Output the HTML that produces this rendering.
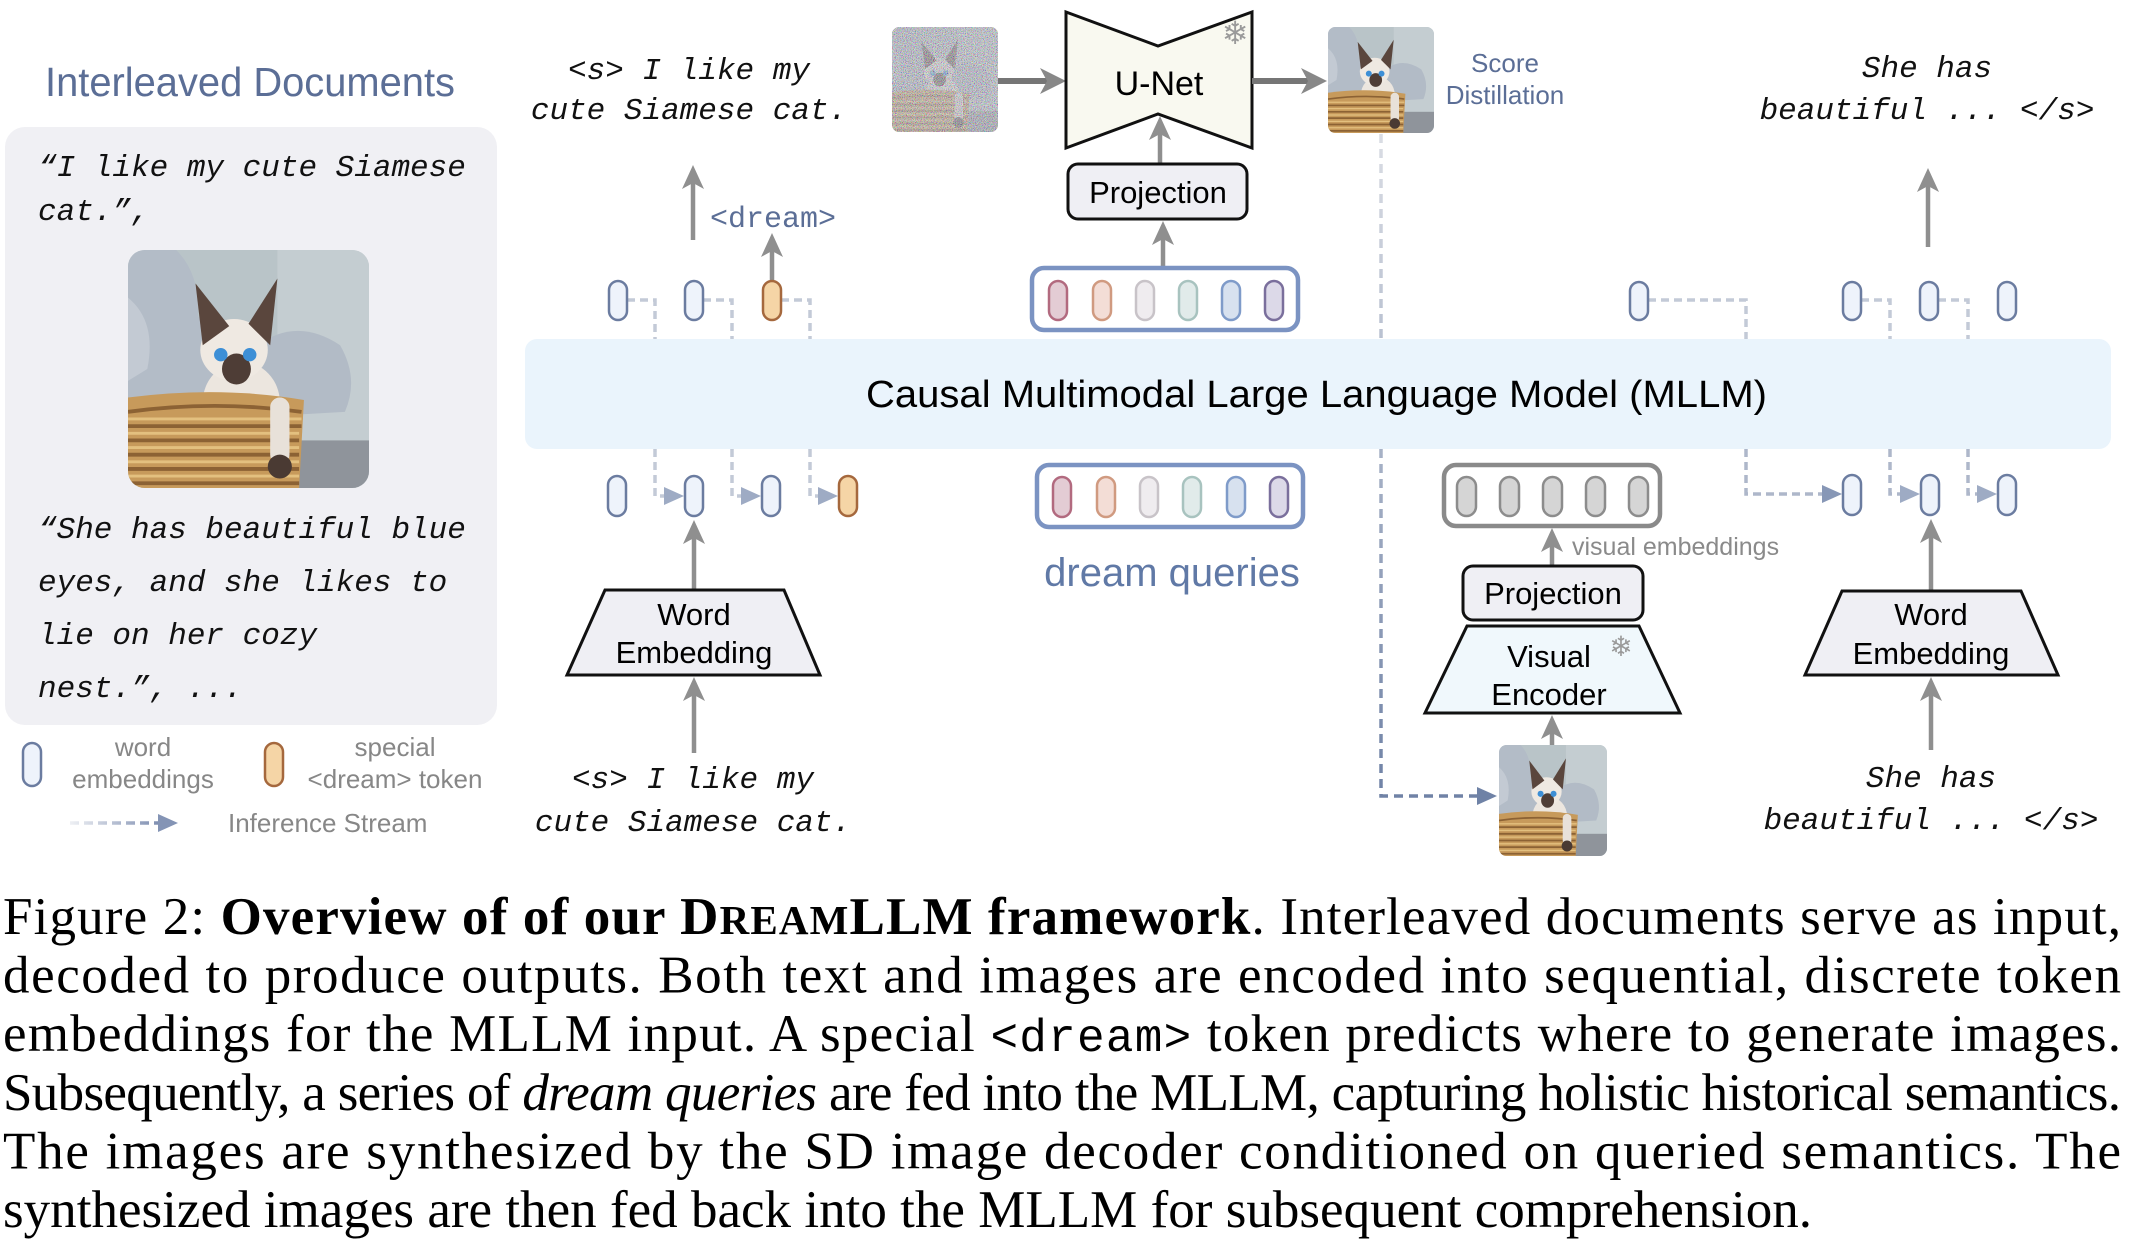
<!DOCTYPE html>
<html><head><meta charset="utf-8">
<style>html,body{margin:0;padding:0;background:#fff}svg{display:block}</style>
</head><body>
<svg width="2136" height="1242" viewBox="0 0 2136 1242" xmlns="http://www.w3.org/2000/svg">
<defs>
  <symbol id="cat" viewBox="0 0 100 100" preserveAspectRatio="none">
    <rect width="100" height="100" fill="#b9c4c8"/>
    <rect x="62" width="38" height="100" fill="#c4cdd1"/>
    <path d="M0,0 L20,0 Q30,10 29,28 Q40,32 46,44 L42,72 L0,76 Z" fill="#b3bcc7"/>
    <path d="M0,20 Q12,30 8,50 L0,55 Z" fill="#c3cad3"/>
    <path d="M54,40 Q70,28 88,40 Q96,54 90,68 L55,70 Z" fill="#b2bbc6"/>
    <rect x="70" y="80" width="30" height="20" fill="#8f949b"/>
    <ellipse cx="47" cy="64" rx="16" ry="17" fill="#ece6df"/>
    <ellipse cx="44" cy="42" rx="14" ry="13" fill="#efe9e2"/>
    <polygon points="31,40 28,14 42,32" fill="#5a463d"/>
    <polygon points="50,31 62,12 59,40" fill="#5a463d"/>
    <ellipse cx="45" cy="50" rx="6" ry="6.5" fill="#4e3d36"/>
    <circle cx="38.5" cy="44" r="2.8" fill="#3d8fd6"/>
    <circle cx="50.5" cy="44" r="2.8" fill="#3d8fd6"/>
    <path d="M0,62 Q38,57 73,63 L71,100 L0,100 Z" fill="#c79a5b"/>
    <g stroke="#8c6234" stroke-width="1.6" fill="none">
      <path d="M0,68 Q36,63 72,68 M0,74 H72 M0,80 H71 M0,86 H71 M0,92 H71 M0,98 H71"/>
    </g>
    <g stroke="#e3c07f" stroke-width="1.2" fill="none">
      <path d="M0,71 H72 M0,77 H71 M0,83 H71 M0,89 H71 M0,95 H71"/>
    </g>
    <rect x="59" y="62" width="8" height="28" rx="4" fill="#e8e1d9"/>
    <ellipse cx="63" cy="91" rx="5" ry="5" fill="#4a3a33"/>
  </symbol>
  <clipPath id="rc" clipPathUnits="objectBoundingBox"><rect width="1" height="1" rx="0.07" ry="0.07"/></clipPath>
  <filter id="nz" x="0" y="0" width="1" height="1" filterUnits="objectBoundingBox">
    <feTurbulence type="fractalNoise" baseFrequency="1.1" numOctaves="1" seed="7"/>
    <feColorMatrix type="matrix" values="2.4 0 0 0 -0.65  0 2.4 0 0 -0.65  0 0 2.4 0 -0.6  0 0 0 0 0.62"/>
  </filter>
  <linearGradient id="gv" gradientUnits="userSpaceOnUse" x1="0" y1="134" x2="0" y2="800">
    <stop offset="0" stop-color="#dadde4"/><stop offset="1" stop-color="#6f82a6"/>
  </linearGradient>
  <linearGradient id="gl" gradientUnits="userSpaceOnUse" x1="70" y1="0" x2="160" y2="0">
    <stop offset="0" stop-color="#eef0f4"/><stop offset="1" stop-color="#7d8db0"/>
  </linearGradient>
  <style>
    .w{fill:#eef3fb;stroke:#6b7ca0;stroke-width:2.5}
    .o{fill:#f5d5a6;stroke:#a5683d;stroke-width:2.5}
    .g{fill:#d5d5d5;stroke:#8c8c8c;stroke-width:2.5}
    .d{fill:none;stroke:#c3cad7;stroke-width:3.5;stroke-dasharray:8 5}
    .ah{fill:#9eabc4}
    .ar{stroke:#8f8f8f;stroke-width:4.5}
    .af{fill:#8f8f8f}
    .sans{font-family:"Liberation Sans",Arial,sans-serif}
    .mi{font-family:"Liberation Mono",monospace;font-style:italic}
    .serif{font-family:"Liberation Serif","Times New Roman",serif}
  </style>
</defs>

<!-- Left panel -->
<text class="sans" x="45" y="96" font-size="41" fill="#5b6e96" textLength="410" lengthAdjust="spacingAndGlyphs">Interleaved Documents</text>
<rect x="5" y="127" width="492" height="598" rx="20" fill="#f0f0f4"/>
<g class="mi" font-size="31" fill="#111">
  <text x="38" y="176">“I like my cute Siamese</text>
  <text x="38" y="220">cat.”,</text>
  <text x="38" y="538">“She has beautiful blue</text>
  <text x="38" y="591">eyes, and she likes to</text>
  <text x="38" y="644">lie on her cozy</text>
  <text x="38" y="697">nest.”, ...</text>
</g>
<use href="#cat" x="128" y="250" width="241" height="238" clip-path="url(#rc)"/>

<!-- Legend -->
<rect class="w" x="23" y="743" width="18" height="43" rx="9"/>
<rect class="o" x="265" y="743" width="18" height="43" rx="9"/>
<g class="sans" font-size="26" fill="#878787" text-anchor="middle">
  <text x="143" y="756">word</text>
  <text x="143" y="788">embeddings</text>
  <text x="395" y="756">special</text>
  <text x="395" y="788">&lt;dream&gt; token</text>
</g>
<path d="M70,823 H160" stroke="url(#gl)" stroke-width="3.5" stroke-dasharray="9 5" fill="none"/>
<polygon points="178,823 158,814 158,832" fill="#8494b5"/>
<text class="sans" x="228" y="832" font-size="26" fill="#878787">Inference Stream</text>

<!-- long dashed feedback line -->
<path d="M1381,134 V796 H1480" fill="none" stroke="url(#gv)" stroke-width="3.5" stroke-dasharray="9 6"/>
<polygon points="1497,796 1477,787 1477,805" fill="#6f82a6"/>

<!-- connectors top -->
<path class="d" d="M627,300 H655 V339 M703,300 H732 V339 M781,300 H810 V339"/>
<path class="d" d="M1648,300 H1746 V339 M1861,300 H1890 V339 M1938,300 H1968 V339"/>
<!-- connectors bottom -->
<path class="d" d="M655,449 V496 H664 M732,449 V496 H741 M810,449 V496 H818"/>
<polygon class="ah" points="684,496 664,487 664,505"/>
<polygon class="ah" points="761,496 741,487 741,505"/>
<polygon class="ah" points="838,496 818,487 818,505"/>
<path class="d" d="M1746,449 V494 H1822 M1890,449 V494 H1900 M1968,449 V494 H1977" style="stroke:#aeb7ca"/>
<polygon class="ah" points="1842,494 1822,485 1822,503" style="fill:#8797b6"/>
<polygon class="ah" points="1920,494 1900,485 1900,503"/>
<polygon class="ah" points="1997,494 1977,485 1977,503"/>

<!-- MLLM bar -->
<rect x="525" y="339" width="1586" height="110" rx="12" fill="#eaf4fc"/>
<text class="sans" x="866" y="407" font-size="38" fill="#000" textLength="901" lengthAdjust="spacingAndGlyphs">Causal Multimodal Large Language Model (MLLM)</text>

<!-- top-left output -->
<g class="mi" font-size="31" fill="#111" text-anchor="middle">
  <text x="689" y="79">&lt;s&gt; I like my</text>
  <text x="689" y="119">cute Siamese cat.</text>
</g>
<line class="ar" x1="693" y1="240" x2="693" y2="182"/><polygon class="af" points="693,165 704,189 693,183 682,189"/>
<text x="710" y="227" font-family="Liberation Mono,monospace" font-size="30" fill="#5b6e96">&lt;dream&gt;</text>
<line class="ar" x1="772" y1="281" x2="772" y2="250"/><polygon class="af" points="772,233 783,257 772,251 761,257"/>
<rect class="w" x="609" y="281" width="18" height="39" rx="9"/>
<rect class="w" x="685" y="281" width="18" height="39" rx="9"/>
<rect class="o" x="763" y="281" width="18" height="39" rx="9"/>

<!-- bottom-left input -->
<rect class="w" x="608" y="476" width="18" height="40" rx="9"/>
<rect class="w" x="685" y="476" width="18" height="40" rx="9"/>
<rect class="w" x="762" y="476" width="18" height="40" rx="9"/>
<rect class="o" x="839" y="476" width="18" height="40" rx="9"/>
<line class="ar" x1="694" y1="590" x2="694" y2="537"/><polygon class="af" points="694,520 705,544 694,538 683,544"/>
<polygon points="605,590 784,590 820,675 567,675" fill="#efeff4" stroke="#111" stroke-width="3"/>
<g class="sans" font-size="31" fill="#000" text-anchor="middle">
  <text x="694" y="625">Word</text>
  <text x="694" y="663">Embedding</text>
</g>
<line class="ar" x1="694" y1="753" x2="694" y2="694"/><polygon class="af" points="694,677 705,701 694,695 683,701"/>
<g class="mi" font-size="31" fill="#111" text-anchor="middle">
  <text x="693" y="788">&lt;s&gt; I like my</text>
  <text x="693" y="831">cute Siamese cat.</text>
</g>

<!-- U-Net section -->
<g clip-path="url(#rc)">
  <use href="#cat" x="892" y="27" width="106" height="105"/>
  <rect x="892" y="27" width="106" height="105" fill="#9a9a9a" opacity="0.35"/>
  <rect x="892" y="27" width="106" height="105" filter="url(#nz)"/>
</g>
<line x1="998" y1="81" x2="1050" y2="81" stroke="#767676" stroke-width="6"/>
<polygon points="1066,81 1040,68 1047,81 1040,94" fill="#888"/>
<polygon points="1066,12 1158,46 1252,12 1252,148 1158,114 1066,148" fill="#f9f9f0" stroke="#111" stroke-width="3" stroke-linejoin="miter"/>
<text class="sans" x="1159" y="95" font-size="34" text-anchor="middle" fill="#000">U-Net</text>
<text x="1235" y="44" font-family="DejaVu Sans,sans-serif" font-size="32" fill="#9a9a9a" text-anchor="middle">❄</text>
<line x1="1252" y1="81" x2="1311" y2="81" stroke="#767676" stroke-width="6"/>
<polygon points="1327,81 1301,68 1308,81 1301,94" fill="#888"/>
<use href="#cat" x="1328" y="27" width="106" height="106" clip-path="url(#rc)"/>
<g class="sans" font-size="26" fill="#5b6e96" text-anchor="middle">
  <text x="1505" y="72">Score</text>
  <text x="1505" y="104">Distillation</text>
</g>
<line class="ar" x1="1160" y1="164" x2="1160" y2="133"/><polygon class="af" points="1160,116 1171,140 1160,134 1149,140"/>
<rect x="1068" y="164" width="179" height="55" rx="10" fill="#efeff4" stroke="#111" stroke-width="3"/>
<text class="sans" x="1158" y="203" font-size="31" text-anchor="middle" fill="#000">Projection</text>
<line class="ar" x1="1163" y1="268" x2="1163" y2="238"/><polygon class="af" points="1163,221 1174,245 1163,239 1152,245"/>

<!-- dream queries boxes -->
<rect x="1032" y="268" width="266" height="62" rx="12" fill="#fff" stroke="#7b93c2" stroke-width="4.5"/>
<g stroke-width="2.5">
  <rect x="1049" y="281" width="18" height="39" rx="9" fill="#e3ccd4" stroke="#b26a7f"/>
  <rect x="1093" y="281" width="18" height="39" rx="9" fill="#f3ddd6" stroke="#d09a80"/>
  <rect x="1136" y="281" width="18" height="39" rx="9" fill="#efecef" stroke="#c8c3c8"/>
  <rect x="1179" y="281" width="18" height="39" rx="9" fill="#e1ebea" stroke="#a8c3bf"/>
  <rect x="1222" y="281" width="18" height="39" rx="9" fill="#d7e1ef" stroke="#7f9bc9"/>
  <rect x="1265" y="281" width="18" height="39" rx="9" fill="#dcd9e8" stroke="#7a6f9c"/>
</g>
<rect x="1037" y="465" width="266" height="62" rx="12" fill="#fff" stroke="#7b93c2" stroke-width="4.5"/>
<g stroke-width="2.5">
  <rect x="1053" y="477" width="18" height="40" rx="9" fill="#e3ccd4" stroke="#b26a7f"/>
  <rect x="1097" y="477" width="18" height="40" rx="9" fill="#f3ddd6" stroke="#d09a80"/>
  <rect x="1140" y="477" width="18" height="40" rx="9" fill="#efecef" stroke="#c8c3c8"/>
  <rect x="1183" y="477" width="18" height="40" rx="9" fill="#e1ebea" stroke="#a8c3bf"/>
  <rect x="1227" y="477" width="18" height="40" rx="9" fill="#d7e1ef" stroke="#7f9bc9"/>
  <rect x="1270" y="477" width="18" height="40" rx="9" fill="#dcd9e8" stroke="#7a6f9c"/>
</g>
<text class="sans" x="1172" y="586" font-size="40" fill="#6079a6" text-anchor="middle">dream queries</text>

<!-- right top -->
<g class="mi" font-size="31" fill="#111" text-anchor="middle">
  <text x="1927" y="77">She has</text>
  <text x="1927" y="119">beautiful ... &lt;/s&gt;</text>
</g>
<line class="ar" x1="1928" y1="247" x2="1928" y2="185"/><polygon class="af" points="1928,168 1939,192 1928,186 1917,192"/>
<rect class="w" x="1630" y="282" width="18" height="38" rx="9"/>
<rect class="w" x="1843" y="282" width="18" height="38" rx="9"/>
<rect class="w" x="1920" y="282" width="18" height="38" rx="9"/>
<rect class="w" x="1998" y="282" width="18" height="38" rx="9"/>

<!-- visual branch -->
<rect x="1444" y="465" width="216" height="61" rx="12" fill="#fff" stroke="#8a8a8a" stroke-width="4.5"/>
<rect class="g" x="1457" y="477" width="19" height="39" rx="9.5"/>
<rect class="g" x="1500" y="477" width="19" height="39" rx="9.5"/>
<rect class="g" x="1543" y="477" width="19" height="39" rx="9.5"/>
<rect class="g" x="1586" y="477" width="19" height="39" rx="9.5"/>
<rect class="g" x="1629" y="477" width="19" height="39" rx="9.5"/>
<line class="ar" x1="1552" y1="566" x2="1552" y2="545"/><polygon class="af" points="1552,528 1563,552 1552,546 1541,552"/>
<text class="sans" x="1572" y="555" font-size="25" fill="#8a8a8a">visual embeddings</text>
<rect x="1463" y="566" width="180" height="54" rx="10" fill="#efeff4" stroke="#111" stroke-width="3"/>
<text class="sans" x="1553" y="604" font-size="31" text-anchor="middle" fill="#000">Projection</text>
<polygon points="1467,626 1639,626 1680,713 1425,713" fill="#f0f8fc" stroke="#111" stroke-width="3"/>
<g class="sans" font-size="31" fill="#000" text-anchor="middle">
  <text x="1549" y="667">Visual</text>
  <text x="1549" y="705">Encoder</text>
</g>
<text x="1621" y="656" font-family="DejaVu Sans,sans-serif" font-size="28" fill="#9a9a9a" text-anchor="middle">❄</text>
<line class="ar" x1="1552" y1="746" x2="1552" y2="732"/><polygon class="af" points="1552,715 1563,739 1552,733 1541,739"/>
<use href="#cat" x="1499" y="745" width="108" height="111" clip-path="url(#rc)"/>

<!-- right bottom -->
<rect class="w" x="1843" y="475" width="18" height="40" rx="9"/>
<rect class="w" x="1921" y="475" width="18" height="40" rx="9"/>
<rect class="w" x="1998" y="475" width="18" height="40" rx="9"/>
<line class="ar" x1="1931" y1="591" x2="1931" y2="536"/><polygon class="af" points="1931,519 1942,543 1931,537 1920,543"/>
<polygon points="1842,591 2021,591 2058,675 1805,675" fill="#efeff4" stroke="#111" stroke-width="3"/>
<g class="sans" font-size="31" fill="#000" text-anchor="middle">
  <text x="1931" y="625">Word</text>
  <text x="1931" y="664">Embedding</text>
</g>
<line class="ar" x1="1931" y1="750" x2="1931" y2="694"/><polygon class="af" points="1931,677 1942,701 1931,695 1920,701"/>
<g class="mi" font-size="31" fill="#111" text-anchor="middle">
  <text x="1931" y="787">She has</text>
  <text x="1931" y="829">beautiful ... &lt;/s&gt;</text>
</g>

<!-- Caption -->
<g class="serif" font-size="53" fill="#000">
  <text x="3" y="934" textLength="2118" lengthAdjust="spacing">Figure 2: <tspan font-weight="bold">Overview of of our D<tspan font-size="41">REAM</tspan>LLM framework</tspan>. Interleaved documents serve as input,</text>
  <text x="3" y="992.6" textLength="2118" lengthAdjust="spacing">decoded to produce outputs.  Both text and images are encoded into sequential, discrete token</text>
  <text x="3" y="1051.2" textLength="2118" lengthAdjust="spacing">embeddings for the MLLM input.  A special <tspan font-family="Liberation Mono,monospace" font-size="46">&lt;dream&gt;</tspan> token predicts where to generate images.</text>
  <text x="3" y="1109.8" textLength="2118" lengthAdjust="spacing">Subsequently, a series of <tspan font-style="italic">dream queries</tspan> are fed into the MLLM, capturing holistic historical semantics.</text>
  <text x="3" y="1168.4" textLength="2118" lengthAdjust="spacing">The images are synthesized by the SD image decoder conditioned on queried semantics.  The</text>
  <text x="3" y="1227" textLength="1809" lengthAdjust="spacing">synthesized images are then fed back into the MLLM for subsequent comprehension.</text>
</g>
</svg>
</body></html>
